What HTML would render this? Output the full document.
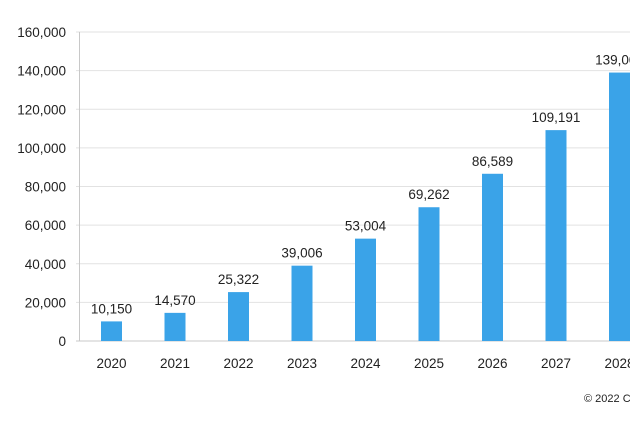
<!DOCTYPE html>
<html><head><meta charset="utf-8"><style>
body{margin:0;background:#fff;width:630px;height:420px;overflow:hidden;font-family:"Liberation Sans",sans-serif}
svg text{font-family:"Liberation Sans",sans-serif;fill:#222}
</style></head><body>
<svg id="c" width="630" height="420" xmlns="http://www.w3.org/2000/svg"></svg>
<script>
const categories=["2020","2021","2022","2023","2024","2025","2026","2027","2028"];
const values=[10150,14570,25322,39006,53004,69262,86589,109191,139000];
const valueLabels=["10,150","14,570","25,322","39,006","53,004","69,262","86,589","109,191","139,000"];
const yTicks=[0,20000,40000,60000,80000,100000,120000,140000,160000];
const yTickLabels=["0","20,000","40,000","60,000","80,000","100,000","120,000","140,000","160,000"];
const svg=document.getElementById('c');const NS='http://www.w3.org/2000/svg';
const y0=341,y1=32,ymax=160000;
const y=v=>y0-(v/ymax)*(y0-y1);
const x=i=>111.5+i*63.5;
function mk(t,a,txt){const e=document.createElementNS(NS,t);for(const k in a)e.setAttribute(k,a[k]);if(txt!==undefined)e.textContent=txt;svg.appendChild(e);return e;}
yTicks.forEach((v,i)=>{
 const g=mk('line',{x1:76,x2:630,y1:y(v),y2:y(v),stroke:i==0?'#c8c8c8':'#e2e2e2','stroke-width':1});
 
 
 const t=mk('text',{x:66,y:y(v)+5,'text-anchor':'end','font-size':13.5},yTickLabels[i]);
 
 
});
const ax=mk('line',{x1:79.5,x2:79.5,y1:32,y2:341,stroke:'#c8c8c8','stroke-width':1});


categories.forEach((c,i)=>{
 const b=mk('rect',{x:x(i)-10.5,y:y(values[i]),width:21,height:y0-y(values[i]),fill:'#3aa3e8'});
 
 
 const l=mk('text',{x:x(i),y:y(values[i])-8,'text-anchor':'middle','font-size':13.5},valueLabels[i]);
 
 
 const t=mk('text',{x:x(i),y:368,'text-anchor':'middle','font-size':13.5},c);
 
 
});
const cp=mk('text',{x:584,y:402,'font-size':11},'© 2022 Company');


</script>
</body></html>
